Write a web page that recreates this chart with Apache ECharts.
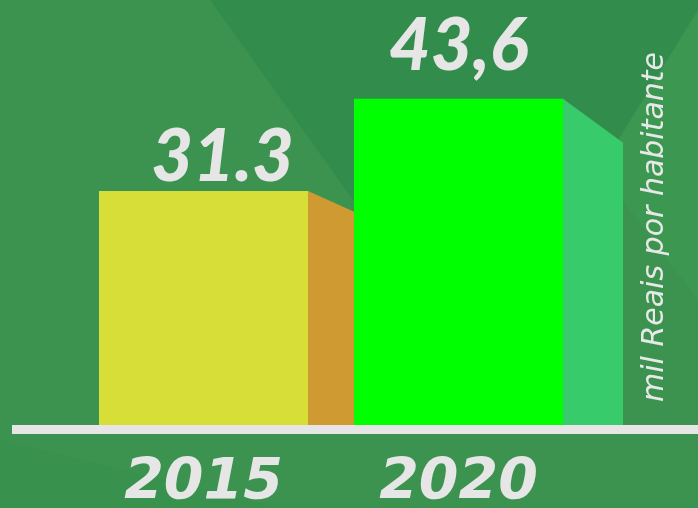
<!DOCTYPE html>
<html>
<head>
<meta charset="utf-8">
<script src="https://cdn.jsdelivr.net/npm/echarts@6/dist/echarts.min.js"></script>
<style>
  html, body { margin: 0; padding: 0; }
  #chart { width: 698px; height: 508px; }
</style>
</head>
<body>
<div id="chart"></div>
<script>
// dados do gráfico
var years = ['2015', '2020'];
var values = [31.3, 43.6];
var valueLabels = ['31.3', '43,6'];
var unitLabel = 'mil Reais por habitante';

var frontColors = ['#d8de38', '#00ff00'];
var sideColors = ['#d09a33', '#38cb6b'];
// profundidade da face lateral (dx, dy) e ajuste dos rótulos
var sideDepth = [[60, 27], [60, 44]];
var labelShift = [[19, 3], [0, -16]];

var myChart = echarts.init(document.getElementById('chart'));

var option = {
    backgroundColor: '#3b934f',
    animation: false,
    grid: { left: 76, right: 112, top: 51, bottom: 83, outerBoundsMode: 'none', containLabel: false },
    xAxis: {
        type: 'category',
        data: years,
        axisLine: { show: false },
        axisTick: { show: false },
        axisLabel: {
            margin: 31,
            color: '#e6e6e6',
            fontSize: 57,
            fontStyle: 'italic',
            fontWeight: 'bold',
            fontFamily: 'DejaVu Sans'
        }
    },
    yAxis: {
        type: 'value',
        min: 0,
        max: 50,
        show: false,
        splitLine: { show: false }
    },
    graphic: [
        // fundo decorativo
        { id: 'bg1', type: 'polygon', z: -10, shape: { points: [[210, 0], [698, 0], [698, 10], [600, 170], [360, 210]] }, style: { fill: '#328d4c' } },
        { id: 'bg2', type: 'polygon', z: -10, shape: { points: [[698, 10], [698, 300], [600, 170]] }, style: { fill: '#3c9850' } },
        { id: 'bg3', type: 'polygon', z: -10, shape: { points: [[0, 440], [280, 508], [0, 508]] }, style: { fill: '#39914e' } },
        {
            id: 'unit',
            type: 'text',
            x: 670,
            y: 402,
            rotation: Math.PI / 2,
            style: {
                text: unitLabel,
                fill: '#e8e8e8',
                align: 'left',
                verticalAlign: 'bottom',
                font: 'oblique 30px "DejaVu Sans"'
            }
        }
    ],
    series: [{
        type: 'custom',
        data: values.map(function (v, i) { return [i, v]; }),
        renderItem: function (params, api) {
            var i = api.value(0);
            var top = api.coord([i, api.value(1)]);
            var base = api.coord([i, 0]);
            var w = 209;
            var x0 = top[0] - w / 2;
            var x1 = top[0] + w / 2;
            var d = sideDepth[i];
            var s = labelShift[i];
            return {
                type: 'group',
                children: [{
                    type: 'polygon',
                    shape: { points: [[x1, top[1]], [x1 + d[0], top[1] + d[1]], [x1 + d[0], base[1]], [x1, base[1]]] },
                    style: { fill: sideColors[i] }
                }, {
                    type: 'rect',
                    shape: { x: x0, y: top[1], width: w, height: base[1] - top[1] },
                    style: { fill: frontColors[i] }
                }, {
                    type: 'text',
                    style: {
                        text: valueLabels[i],
                        x: top[0] + s[0],
                        y: top[1] + s[1],
                        align: 'center',
                        verticalAlign: 'bottom',
                        fill: '#e6e6e6',
                        font: 'italic 900 72px Lato'
                    }
                }]
            };
        }
    }]
};
myChart.setOption(option);

// linha de base branca
var baseY = myChart.convertToPixel({ yAxisIndex: 0 }, 0);
myChart.setOption({
    graphic: [{
        id: 'baseline',
        type: 'rect',
        z: 10,
        shape: { x: 12, y: baseY, width: 686, height: 9 },
        style: { fill: '#e6e6e6' }
    }]
});
</script>
</body>
</html>
